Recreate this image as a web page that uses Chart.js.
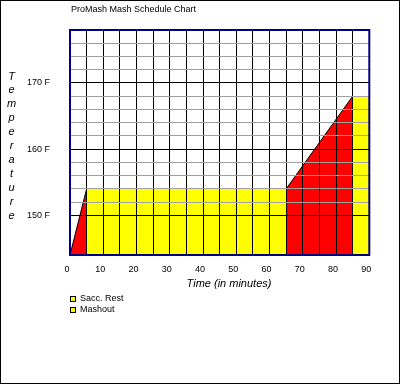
<!DOCTYPE html>
<html>
<head>
<meta charset="utf-8">
<script src="https://cdn.jsdelivr.net/npm/chart.js@4/dist/chart.umd.min.js"></script>
<style>
  html, body { margin: 0; padding: 0; background: #fff; }
  #wrap { width: 401px; height: 385px; position: relative; }
</style>
</head>
<body>
<div id="wrap"><canvas id="mashChart"></canvas></div>
<script>
// mash profile
const profileTime = [0, 5, 65, 85, 90];          // minutes
const profileTemp = [144, 154, 154, 168, 168];   // deg F
const segmentKind = ['ramp', 'rest', 'ramp', 'rest'];
const restNames = ['Sacc. Rest', 'Mashout'];
const xLabelValues = [0, 10, 20, 30, 40, 50, 60, 70, 80, 90];
const yLabelValues = [150, 160, 170];

const RED = '#ff0000';
const YELLOW = '#ffff00';
const NAVY = '#000080';
const GRAY = '#a0a0a0';
const FONT = "'Liberation Sans', Arial, sans-serif";

let restIdx = 0;
const datasets = segmentKind.map((kind, i) => {
    const isRest = kind === 'rest';
    return {
        label: isRest ? restNames[restIdx++] : 'Ramp',
        kind: kind,
        data: [
            { x: profileTime[i], y: profileTemp[i] },
            { x: profileTime[i + 1], y: profileTemp[i + 1] }
        ],
        backgroundColor: isRest ? YELLOW : RED,
        borderColor: isRest ? 'rgba(0,0,0,0)' : '#000',
        borderWidth: 1,
        fill: 'origin',
        pointRadius: 0,
        tension: 0
    };
});

const decor = {
    id: 'decor',
    afterDraw(chart) {
        const { ctx, chartArea: a } = chart;
        ctx.save();
        // plot border
        ctx.strokeStyle = NAVY;
        ctx.lineWidth = 2;
        ctx.strokeRect(a.left, a.top, a.right - a.left, a.bottom - a.top);
        // outer frame
        ctx.strokeStyle = '#000';
        ctx.lineWidth = 1;
        ctx.strokeRect(0.5, 0.5, 399, 383);

        ctx.fillStyle = '#000';
        ctx.textBaseline = 'middle';
        ctx.textAlign = 'left';
        ctx.font = '9px ' + FONT;
        ctx.fillText('ProMash Mash Schedule Chart', 71, 10);

        // y title, one letter per line
        ctx.font = 'italic 11px ' + FONT;
        ctx.textAlign = 'center';
        ctx.textBaseline = 'alphabetic';
        'Temperature'.split('').forEach((ch, i) => {
            ctx.fillText(ch, 11.5, 79.5 + i * 13.9);
        });

        // x title
        ctx.textBaseline = 'middle';
        ctx.fillText('Time (in minutes)', 229, 284);

        // legend: rests only
        ctx.font = '9px ' + FONT;
        ctx.textAlign = 'left';
        let row = 0;
        chart.data.datasets.forEach(ds => {
            if (ds.kind !== 'rest') return;
            const y = 299 + row * 11;
            ctx.fillStyle = ds.backgroundColor;
            ctx.fillRect(70.5, y - 2.5, 5, 5);
            ctx.strokeStyle = '#000';
            ctx.strokeRect(70.5, y - 2.5, 5, 5);
            ctx.fillStyle = '#000';
            ctx.fillText(ds.label, 80, y);
            row++;
        });
        ctx.restore();
    }
};

new Chart(document.getElementById('mashChart'), {
    type: 'line',
    data: { datasets: datasets },
    options: {
        responsive: true,
        maintainAspectRatio: false,
        animation: false,
        layout: { padding: { left: 0, right: 31.7, top: 30, bottom: 100 } },
        plugins: {
            legend: { display: false },
            tooltip: { enabled: false }
        },
        scales: {
            x: {
                type: 'linear',
                min: 0,
                max: 90,
                afterFit: (scale) => { scale.height = 30; },
                ticks: {
                    stepSize: 5,
                    autoSkip: false,
                    maxRotation: 0,
                    padding: 9,
                    labelOffset: -3,
                    color: '#000',
                    font: { family: FONT, size: 9 },
                    callback: (v) => xLabelValues.includes(v) ? String(v) : ''
                },
                grid: { z: 1, color: '#000', drawTicks: false },
                border: { display: false }
            },
            y: {
                min: 144,
                max: 178,
                afterFit: (scale) => { scale.width = 70; },
                ticks: {
                    stepSize: 2,
                    autoSkip: false,
                    padding: 20,
                    color: '#000',
                    font: { family: FONT, size: 9 },
                    callback: (v) => yLabelValues.includes(v) ? v + ' F' : ''
                },
                grid: {
                    z: 1,
                    drawTicks: false,
                    color: (c) => {
                        const v = c.tick.value;
                        if (v % 10 === 0) return '#000';
                        if (v < 150) return 'rgba(0,0,0,0)';
                        return GRAY;
                    }
                },
                border: { display: false }
            }
        }
    },
    plugins: [decor]
});
</script>
</body>
</html>
